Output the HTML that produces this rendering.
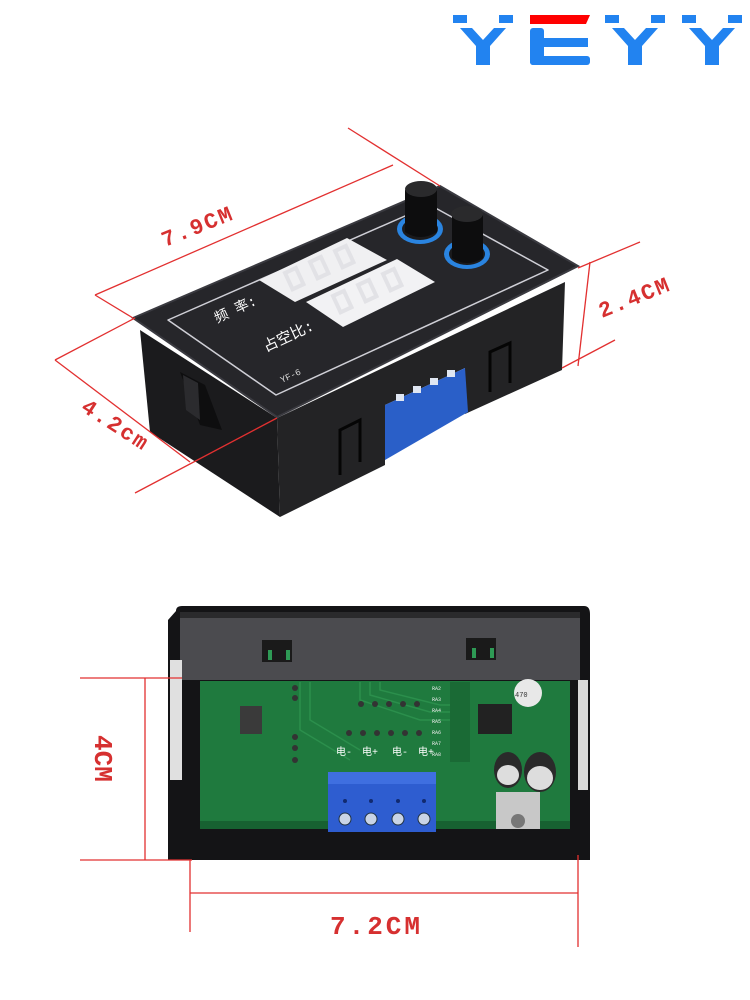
<!DOCTYPE html>
<html><head><meta charset="utf-8"><style>
html,body{margin:0;padding:0;background:#fff;width:750px;height:1000px;overflow:hidden}
text{font-family:"Liberation Mono","Noto Sans CJK SC",monospace}
</style></head><body>
<svg width="750" height="1000" viewBox="0 0 750 1000" xmlns="http://www.w3.org/2000/svg">
<!-- logo -->
<g fill="#2283f0">
 <g id="y1">
  <rect x="453" y="15" width="14" height="8"/><rect x="499" y="15" width="14" height="8"/>
  <polygon points="460,28 472,28 483,40 494,28 506,28 490,46 490,65 476,65 476,46"/>
 </g>
 <use href="#y1" x="152"/>
 <use href="#y1" x="229"/>
 <rect x="530" y="28" width="14" height="37" rx="3"/>
 <rect x="530" y="38" width="58" height="9"/>
 <rect x="530" y="56" width="60" height="9" rx="3"/>
</g>
<polygon points="530,15 590,15 586,24 530,24" fill="#f00"/>

<!-- top device -->
<polygon points="140,330 277,418 280,517 150,432" fill="#1b1b1d"/>
<polygon points="277,418 565,282 562,370 465,414 465,368 385,405 385,465 280,517" fill="#232325"/>
<polygon points="385,405 465,368 468,412 385,460" fill="#2a5fc8"/>
<g fill="#dfe6f2"><rect x="396" y="394" width="8" height="7"/><rect x="413" y="386" width="8" height="7"/><rect x="430" y="378" width="8" height="7"/><rect x="447" y="370" width="8" height="7"/></g>
<g fill="none" stroke="#050505" stroke-width="3">
<polyline points="340,475 340,430 360,420 360,462"/>
<polyline points="490,392 490,352 510,343 510,383"/>
</g>
<polygon points="180,372 205,385 222,430 200,425" fill="#0e0e0f"/>
<polygon points="183,375 198,383 200,420 186,410" fill="#2b2b2e"/>
<polygon points="133,318 440,186 578,266 277,417" fill="#26262a"/>
<polygon points="133,318 440,186 578,266 277,417" fill="none" stroke="#3a3a40" stroke-width="2"/>
<polygon points="168,320 430,205 548,270 276,395" fill="none" stroke="#cfcfd6" stroke-width="1.5" stroke-linejoin="round"/>
<polygon points="259,280 347,238 387,260 295,302" fill="#f0f0f2"/>
<polygon points="306,302 397,259 435,282 343,327" fill="#f2f2f4"/>
<g fill="none" stroke="#e2e2e6" stroke-width="4">
<rect x="0" y="0" width="12" height="18" transform="translate(285,273) rotate(-25)"/><rect x="0" y="0" width="12" height="18" transform="translate(310,262) rotate(-25)"/><rect x="0" y="0" width="12" height="18" transform="translate(335,251) rotate(-25)"/>
<rect x="0" y="0" width="12" height="18" transform="translate(333,296) rotate(-25)"/><rect x="0" y="0" width="12" height="18" transform="translate(358,285) rotate(-25)"/><rect x="0" y="0" width="12" height="18" transform="translate(383,274) rotate(-25)"/>
</g>
<text x="0" y="0" font-size="14" fill="#fff" transform="translate(217,323) rotate(-25)">频 率:</text>
<text x="0" y="0" font-size="15" fill="#fff" transform="translate(266,352) rotate(-25)">占空比:</text>
<text x="0" y="0" font-size="9" fill="#ddd" transform="translate(282,383) rotate(-25)">YF-6</text>
<ellipse cx="420" cy="229" rx="23" ry="15" fill="#2a84e0"/><ellipse cx="420" cy="229" rx="18" ry="11" fill="#1a1a1c"/>
<path d="M405,190 L405,232 Q420,242 437,232 L437,190 Z" fill="#0d0d0e"/>
<ellipse cx="421" cy="189" rx="16" ry="8" fill="#2a2a2c"/>
<ellipse cx="467" cy="254" rx="23" ry="15" fill="#2a84e0"/><ellipse cx="467" cy="254" rx="18" ry="11" fill="#1a1a1c"/>
<path d="M452,215 L452,258 Q467,268 483,258 L483,215 Z" fill="#0d0d0e"/>
<ellipse cx="467" cy="214" rx="16" ry="8" fill="#2a2a2c"/>

<g stroke="#e23030" stroke-width="1.3" fill="none">
<line x1="95" y1="295" x2="393" y2="165"/>
<line x1="95" y1="295" x2="133" y2="318"/>
<line x1="348" y1="128" x2="440" y2="186"/>
<line x1="590" y1="262" x2="578" y2="366"/>
<line x1="578" y1="268" x2="640" y2="242"/>
<line x1="562" y1="368" x2="615" y2="340"/>
<line x1="55" y1="360" x2="190" y2="462"/>
<line x1="55" y1="360" x2="135" y2="318"/>
<line x1="135" y1="493" x2="277" y2="418"/>
</g>
<g fill="#d63030" font-size="22" font-weight="bold">
<text transform="translate(165,247) rotate(-22)" letter-spacing="2">7.9CM</text>
<text transform="translate(602,318) rotate(-22)" letter-spacing="2">2.4CM</text>
<text transform="translate(80,410) rotate(33)" letter-spacing="2">4.2cm</text>
</g>

<!-- bottom device -->
<path d="M176,611 Q176,606 182,606 L584,606 Q590,606 590,614 L590,860 L168,860 L168,620 Z" fill="#141416"/>
<rect x="180" y="612" width="400" height="68" fill="#4b4b4f"/>
<rect x="180" y="612" width="400" height="6" fill="#2a2a2c"/>
<rect x="262" y="640" width="30" height="22" fill="#1a1a1a"/><rect x="268" y="650" width="4" height="10" fill="#2e9a55"/><rect x="286" y="650" width="4" height="10" fill="#2e9a55"/>
<rect x="466" y="638" width="30" height="22" fill="#1a1a1a"/><rect x="472" y="648" width="4" height="10" fill="#2e9a55"/><rect x="490" y="648" width="4" height="10" fill="#2e9a55"/>
<rect x="170" y="660" width="12" height="120" fill="#e0e0e0"/>
<rect x="578" y="680" width="10" height="110" fill="#d8d8d8"/>
<rect x="200" y="681" width="370" height="140" fill="#1f7a3e"/>
<rect x="200" y="821" width="370" height="8" fill="#176131"/>
<g fill="none" stroke="#2b8f4c" stroke-width="1.5">
<path d="M360,682 L360,700 L420,720 L470,720"/><path d="M370,682 L370,695 L430,712 L470,712"/><path d="M380,682 L380,690 L440,705 L470,705"/>
<path d="M300,682 L300,730 L350,760"/><path d="M310,682 L310,720 L360,750"/>
</g>
<g fill="#333"><circle cx="361" cy="704" r="3"/><circle cx="375" cy="704" r="3"/><circle cx="389" cy="704" r="3"/><circle cx="403" cy="704" r="3"/><circle cx="417" cy="704" r="3"/>
<circle cx="349" cy="733" r="3"/><circle cx="363" cy="733" r="3"/><circle cx="377" cy="733" r="3"/><circle cx="391" cy="733" r="3"/><circle cx="405" cy="733" r="3"/><circle cx="419" cy="733" r="3"/>
<circle cx="295" cy="688" r="3"/><circle cx="295" cy="698" r="3"/><circle cx="295" cy="737" r="3"/><circle cx="295" cy="748" r="3"/><circle cx="295" cy="760" r="3"/></g>
<rect x="240" y="706" width="22" height="28" fill="#3a3a3a"/>
<rect x="450" y="682" width="20" height="80" fill="#1a6a35"/>
<g fill="#eee" font-size="5"><text x="432" y="690">RA2</text><text x="432" y="701">RA3</text><text x="432" y="712">RA4</text><text x="432" y="723">RA5</text><text x="432" y="734">RA6</text><text x="432" y="745">RA7</text><text x="432" y="756">RA8</text></g>
<rect x="478" y="704" width="34" height="30" fill="#222"/>
<circle cx="528" cy="693" r="14" fill="#e8e8e8"/><text x="515" y="697" font-size="7" fill="#333">470</text>
<ellipse cx="508" cy="770" rx="14" ry="18" fill="#2a2a2a"/><ellipse cx="508" cy="775" rx="11" ry="10" fill="#ddd"/>
<ellipse cx="540" cy="772" rx="16" ry="20" fill="#2a2a2a"/><ellipse cx="540" cy="778" rx="13" ry="12" fill="#ddd"/>
<rect x="496" y="792" width="44" height="40" fill="#c8c8c8"/><circle cx="518" cy="821" r="7" fill="#777"/>
<g fill="#fff" font-size="10"><text x="336" y="755">电-</text><text x="362" y="755">电+</text><text x="392" y="755">电-</text><text x="418" y="755">电+</text></g>
<rect x="328" y="772" width="108" height="60" fill="#2e5dd0"/>
<rect x="328" y="772" width="108" height="12" fill="#3f6fe0"/>
<g fill="#c9d4e6" stroke="#234" stroke-width="1"><circle cx="345" cy="819" r="6"/><circle cx="371" cy="819" r="6"/><circle cx="398" cy="819" r="6"/><circle cx="424" cy="819" r="6"/></g>
<g fill="#112a70"><circle cx="345" cy="801" r="2"/><circle cx="371" cy="801" r="2"/><circle cx="398" cy="801" r="2"/><circle cx="424" cy="801" r="2"/></g>
<rect x="193" y="829" width="135" height="31" fill="#141416"/>
<rect x="436" y="829" width="142" height="31" fill="#141416"/>

<g stroke="#e23030" stroke-width="1.3">
<line x1="80" y1="678" x2="182" y2="678"/>
<line x1="80" y1="860" x2="192" y2="860"/>
<line x1="145" y1="678" x2="145" y2="860"/>
<line x1="190" y1="860" x2="190" y2="932"/>
<line x1="578" y1="855" x2="578" y2="947"/>
<line x1="190" y1="893" x2="578" y2="893"/>
</g>
<g fill="#d63030" font-size="26" font-weight="bold">
<text transform="translate(95,735) rotate(90)">4CM</text>
<text x="330" y="934" font-size="26" letter-spacing="3">7.2CM</text>
</g>
</svg>
</body></html>
